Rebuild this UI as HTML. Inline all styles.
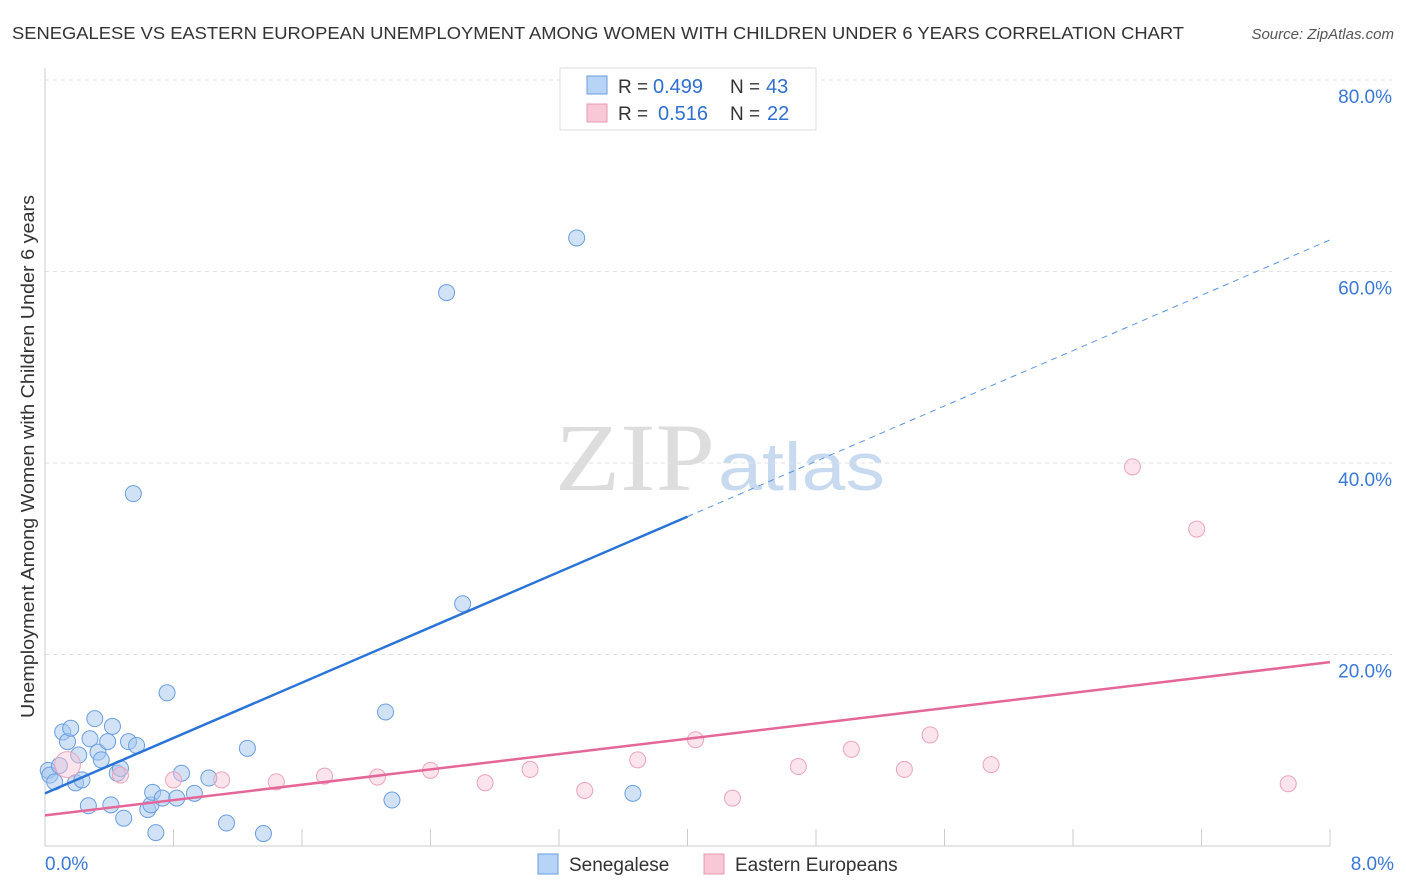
<!DOCTYPE html>
<html><head><meta charset="utf-8"><style>
body{margin:0;background:#fff;font-family:"Liberation Sans",sans-serif;}
#wrap{position:relative;width:1406px;height:892px;overflow:hidden}
</style></head><body>
<div id="wrap">
<svg id="svg" width="1406" height="892" xmlns="http://www.w3.org/2000/svg">
<text x="12" y="39" font-size="17.5" fill="#333" textLength="1172" lengthAdjust="spacingAndGlyphs">SENEGALESE VS EASTERN EUROPEAN UNEMPLOYMENT AMONG WOMEN WITH CHILDREN UNDER 6 YEARS CORRELATION CHART</text>
<text x="1394" y="39" font-size="15" fill="#555" font-style="italic" text-anchor="end">Source: ZipAtlas.com</text>
<text transform="translate(34,718) rotate(-90)" font-size="18" fill="#333" textLength="523" lengthAdjust="spacingAndGlyphs">Unemployment Among Women with Children Under 6 years</text>
<text x="555" y="490" font-size="96" fill="#ddd" font-family="Liberation Serif,serif" textLength="160" lengthAdjust="spacingAndGlyphs">ZIP</text>
<text x="718" y="490" font-size="68" fill="#c8daf0" textLength="167" lengthAdjust="spacingAndGlyphs">atlas</text>
<g id="grid"></g><g id="marks"></g>
<g>
<rect x="560" y="68" width="256" height="62" fill="#fff" stroke="#ddd"/>
<rect x="587" y="76" width="20" height="18" fill="#b7d3f5" stroke="#6a9ee0"/>
<rect x="587" y="104" width="20" height="18" fill="#f9c8d6" stroke="#e899b0"/>
<text x="618" y="93" font-size="19" fill="#333">R =</text>
<text x="653" y="93" font-size="20" fill="#2f6fd0">0.499</text>
<text x="730" y="93" font-size="19" fill="#333">N =</text>
<text x="766" y="93" font-size="20" fill="#2f6fd0">43</text>
<text x="618" y="120" font-size="19" fill="#333">R =</text>
<text x="658" y="120" font-size="20" fill="#2f6fd0">0.516</text>
<text x="730" y="120" font-size="19" fill="#333">N =</text>
<text x="767" y="120" font-size="20" fill="#2f6fd0">22</text>
</g>
<g>
<rect x="538" y="854" width="20" height="20" fill="#b7d3f5" stroke="#6a9ee0"/>
<text x="569" y="871" font-size="19" fill="#333">Senegalese</text>
<rect x="704" y="854" width="20" height="20" fill="#f9c8d6" stroke="#e899b0"/>
<text x="735" y="871" font-size="19" fill="#333">Eastern Europeans</text>
</g>
</svg>
</div>
<script>
const blueX=[.02,.03,.06,.09,.11,.14,.16,.19,.21,.23,.27,.28,.31,.33,.35,.39,.41,.42,.45,.47,.49,.52,.55,.57,.64,.66,.67,.69,.73,.76,.82,.85,.93,1.02,1.13,1.26,1.36,2.12,2.16,2.50,2.60,3.31,3.66];
const blueY=[7.9,7.4,6.7,8.4,11.9,10.9,12.3,6.6,9.5,6.9,4.2,11.2,13.3,9.8,9.0,10.9,4.3,12.5,7.6,8.1,2.9,10.9,36.8,10.5,3.8,4.3,5.6,1.4,5.0,16.0,5.0,7.6,5.5,7.1,2.4,10.2,1.3,14.0,4.8,57.8,25.3,63.5,5.5];
const pinkX=[.14,.47,.80,1.10,1.44,1.74,2.07,2.40,2.74,3.02,3.36,3.69,4.05,4.28,4.69,5.02,5.35,5.51,5.89,6.77,7.17,7.74];
const pinkY=[8.5,7.4,6.9,6.9,6.7,7.3,7.2,7.9,6.6,8.0,5.8,9.0,11.1,5.0,8.3,10.1,8.0,11.6,8.5,39.6,33.1,6.5];
const blueTrend=[5.5,63.3]; const blueSolidEnd=4.0;
const pinkTrend=[3.2,19.2];
const yTicks=[20,40,60,80]; const xTickLabels=["0.0%","8.0%"];
const NS="http://www.w3.org/2000/svg";
const X=v=>45+v/8*1285, Y=v=>846-v/20*191.5;
const grid=document.getElementById('grid'), marks=document.getElementById('marks');
function mk(tag,at,parent){const e=document.createElementNS(NS,tag);for(const k in at)e.setAttribute(k,at[k]);parent.appendChild(e);return e;}
yTicks.forEach(t=>{const l=mk('line',{x1:45,x2:1392,y1:Y(t),y2:Y(t),stroke:'#e2e2e2','stroke-dasharray':'4 4'},grid);


const tx=mk('text',{x:1392,y:Y(t)+23,'font-size':19,fill:'#3a78d8','text-anchor':'end'},grid);tx.textContent=t.toFixed(1)+'%';

});
mk('line',{x1:45,x2:45,y1:68,y2:846,stroke:'#ccc'},grid);
mk('line',{x1:45,x2:1330,y1:846,y2:846,stroke:'#ccc'},grid);
for(let i=0;i<=10;i++){const l=mk('line',{x1:X(i*0.8),x2:X(i*0.8),y1:829,y2:846,stroke:'#ccc'},grid);

}
xTickLabels.forEach((s,i)=>{const t=mk('text',{x:i?1394:45,y:870,'font-size':19,fill:'#3a78d8','text-anchor':i?'end':'start'},grid);t.textContent=s;

});
blueX.forEach((x,i)=>{const c=mk('circle',{cx:X(x),cy:Y(blueY[i]),r:8,fill:'rgba(164,198,240,0.5)',stroke:'#6a9ee0','stroke-width':1},marks);

});
pinkX.forEach((x,i)=>{const c=mk('circle',{cx:X(x),cy:Y(pinkY[i]),r:i==0?13:8,fill:'rgba(248,195,212,0.45)',stroke:'#eaa4ba','stroke-width':1},marks);

});
const bAt=x=>blueTrend[0]+(blueTrend[1]-blueTrend[0])*x/8;
let l1=mk('line',{x1:X(0),y1:Y(bAt(0)),x2:X(blueSolidEnd),y2:Y(bAt(blueSolidEnd)),stroke:'#2a74d8','stroke-width':2.5},marks);


let l2=mk('line',{x1:X(blueSolidEnd),y1:Y(bAt(blueSolidEnd)),x2:X(8),y2:Y(bAt(8)),stroke:'#5a94e0','stroke-width':1,'stroke-dasharray':'6 5'},marks);


let l3=mk('line',{x1:X(0),y1:Y(pinkTrend[0]),x2:X(8),y2:Y(pinkTrend[1]),stroke:'#e5679a','stroke-width':2.5},marks);


</script>
</body></html>
